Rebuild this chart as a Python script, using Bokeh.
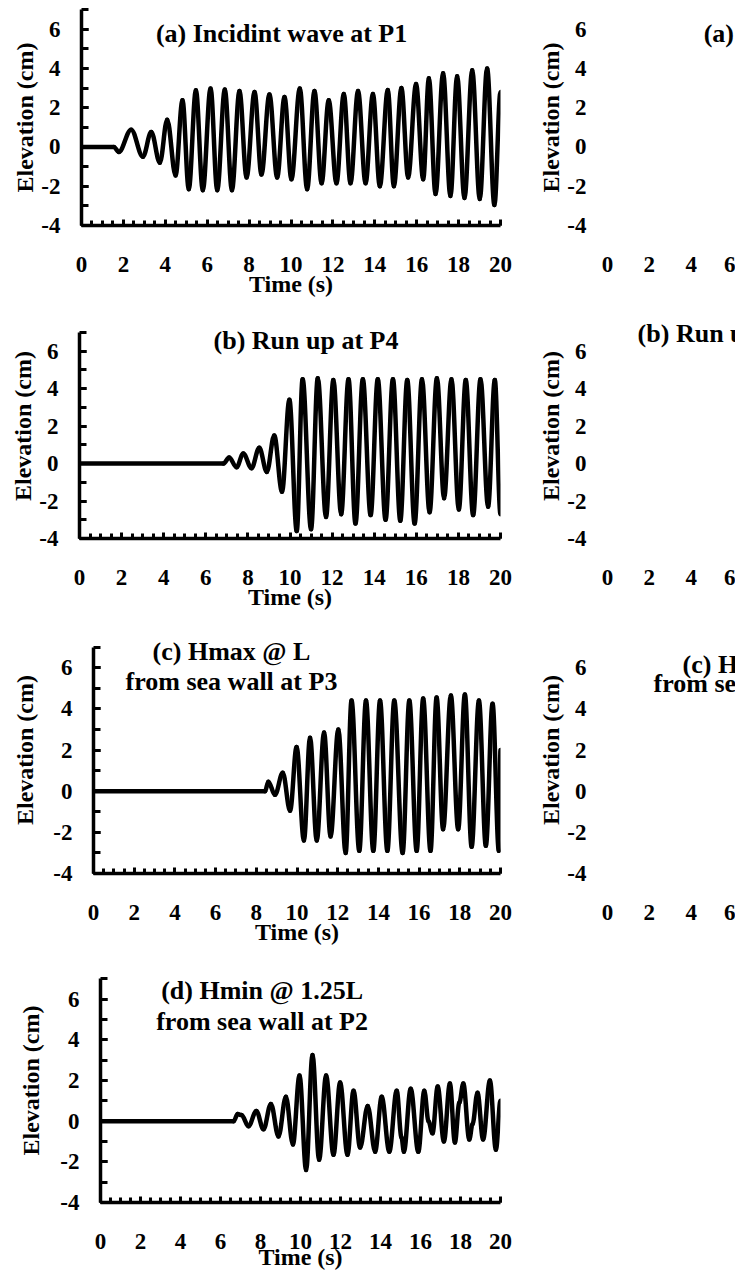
import numpy as np
from bokeh.plotting import figure
from bokeh.layouts import column, row
from bokeh.models import FixedTicker, Label, CustomJSTickFormatter
from bokeh.embed import file_html
from bokeh.resources import INLINE

# Wave gauge records: time (s) and surface elevation (cm) at crests/troughs
t_p1 = [0, 1.55, 1.78, 2.37, 2.93, 3.33, 3.74, 4.09, 4.49, 4.82, 5.12, 5.46, 5.79, 6.16, 6.48,
        6.84, 7.18, 7.54, 7.88, 8.26, 8.59, 8.97, 9.34, 9.69, 10.02, 10.42, 10.77, 11.12, 11.46,
        11.80, 12.17, 12.52, 12.84, 13.20, 13.56, 13.91, 14.24, 14.62, 14.91, 15.27, 15.59,
        15.97, 16.31, 16.58, 16.90, 17.26, 17.61, 17.93, 18.28, 18.65, 19.01, 19.36, 19.71, 20.0]
eta_p1 = [0, 0, -0.26, 0.88, -0.5, 0.76, -0.8, 1.39, -1.45, 2.38, -2.15, 2.89, -2.2, 2.98, -2.2,
          2.92, -2.2, 2.85, -1.55, 2.8, -1.4, 2.67, -1.55, 2.55, -1.65, 2.98, -2.15, 2.85, -1.85,
          2.38, -1.85, 2.7, -1.85, 2.85, -1.85, 2.7, -2.0, 2.9, -2.0, 3.0, -1.55,
          3.2, -1.65, 3.5, -2.4, 3.75, -2.5, 3.6, -2.6, 3.9, -2.65, 4.0, -2.95, 2.8]

t_p4 = [0, 6.84, 7.11, 7.46, 7.78, 8.17, 8.54, 8.90, 9.25, 9.62, 9.97, 10.32, 10.60, 11.00,
        11.32, 11.71, 12.06, 12.43, 12.78, 13.11, 13.46, 13.83, 14.17, 14.54, 14.89, 15.24,
        15.57, 15.92, 16.27, 16.63, 16.98, 17.32, 17.67, 18.02, 18.35, 18.70, 19.05, 19.41,
        19.73, 20.0]
eta_p4 = [0, 0, 0.32, -0.2, 0.54, -0.25, 0.84, -0.45, 1.5, -1.5, 3.4, -3.6, 4.5, -3.5,
          4.55, -2.85, 4.45, -2.7, 4.5, -3.2, 4.5, -2.75, 4.5, -3.0, 4.5, -3.05,
          4.45, -3.2, 4.5, -2.6, 4.55, -1.85, 4.5, -2.45, 4.45, -2.75, 4.5, -2.3,
          4.45, -2.7]

t_p3 = [0, 8.43, 8.59, 8.92, 9.30, 9.66, 9.98, 10.34, 10.64, 10.97, 11.33, 11.65, 12.03, 12.39,
        12.68, 13.06, 13.39, 13.75, 14.08, 14.44, 14.78, 15.19, 15.52, 15.88, 16.20, 16.56,
        16.86, 17.18, 17.56, 17.92, 18.25, 18.58, 18.94, 19.28, 19.61, 19.92, 20.0]
eta_p3 = [0, 0, 0.46, -0.18, 0.9, -0.95, 2.15, -2.4, 2.6, -2.4, 2.85, -2.2, 3.0, -3.0,
          4.4, -2.9, 4.4, -2.9, 4.4, -2.9, 4.4, -3.0, 4.4, -2.9, 4.5, -2.9,
          4.55, -1.85, 4.65, -1.85, 4.7, -2.7, 4.4, -2.65, 4.25, -2.9, 2.0]

t_p2 = [0, 6.66, 6.86, 7.05, 7.40, 7.79, 8.15, 8.52, 8.90, 9.27, 9.62, 9.95, 10.28, 10.60,
        10.93, 11.28, 11.65, 11.98, 12.35, 12.65, 12.98, 13.36, 13.73, 14.06, 14.44, 14.81,
        15.05, 15.17, 15.51, 15.89, 16.19, 16.40, 16.60, 16.86, 17.17, 17.47, 17.72, 17.94,
        18.14, 18.44, 18.60, 18.85, 19.13, 19.47, 19.77, 20.0]
eta_p2 = [0, 0, 0.35, 0.3, -0.25, 0.5, -0.4, 0.85, -0.75, 1.2, -1.15, 2.25, -2.4, 3.25,
          -1.9, 2.25, -1.65, 1.9, -1.65, 1.5, -1.3, 0.75, -1.5, 1.2, -1.5, 1.5,
          -0.8, -1.5, 1.6, -1.5, 1.5, 0.0, -0.6, 1.7, -1.0, 1.85, -1.05, 0.9,
          1.85, -0.9, -0.15, 1.4, -0.9, 2.0, -1.4, 1.0]

y_ticks = [-4, -2, 0, 2, 4, 6]
y_minor = [-4, -3, -2, -1, 0, 1, 2, 3, 4, 5, 6, 7]
x_ticks = [0, 2, 4, 6, 8, 10, 12, 14, 16, 18, 20]
x_minor = [i * 0.5 for i in range(41)]

FONT = "Liberation Serif"
INT_FMT = "return tick.toFixed(0);"


def style_axes(p, ylab_standoff, xlab_standoff=-4, show_lines=True, xlabel=True):
    p.outline_line_color = None
    p.xgrid.visible = False
    p.ygrid.visible = False
    p.background_fill_color = "white"
    p.border_fill_color = "white"

    xa = p.xaxis[0]
    xa.ticker = FixedTicker(ticks=x_ticks, minor_ticks=x_minor)
    ya = p.yaxis[0]
    ya.ticker = FixedTicker(ticks=y_ticks, minor_ticks=y_minor)
    ya.bounds = (-4, 7)

    for ax in (xa, ya):
        ax.formatter = CustomJSTickFormatter(code=INT_FMT)
        ax.axis_line_width = 3.5
        ax.axis_line_color = "black" if show_lines else None
        ax.major_tick_line_color = "black" if show_lines else None
        ax.minor_tick_line_color = "black" if show_lines else None
        ax.major_tick_line_width = 3
        ax.minor_tick_line_width = 3
        ax.major_tick_out = 0
        ax.minor_tick_out = 0
        ax.major_label_text_font = FONT
        ax.major_label_text_font_style = "bold"
        ax.major_label_text_font_size = "23px"
        ax.major_label_text_color = "black"
        ax.axis_label_text_font = FONT
        ax.axis_label_text_font_style = "bold"
        ax.axis_label_text_font_size = "24px"
        ax.axis_label_text_color = "black"

    xa.major_tick_in = 6
    xa.minor_tick_in = 5
    xa.major_label_standoff = 31
    if xlabel:
        xa.axis_label = "Time (s)"
        xa.axis_label_standoff = xlab_standoff

    ya.major_tick_in = 7
    ya.minor_tick_in = 7
    ya.major_label_standoff = 21
    ya.axis_label = "Elevation (cm)"
    ya.axis_label_standoff = ylab_standoff


def add_title(p, lines):
    for text, x, y, align in lines:
        p.add_layout(Label(x=x, y=y, text=text, text_font=FONT, text_font_style="bold",
                           text_font_size="26px", text_color="black",
                           text_align=align, text_baseline="middle"))


def smooth_trace(p, t, eta):
    # Smoothed line: cubic segments with flat tangents at each recorded crest/trough
    t = np.asarray(t, dtype=float)
    e = np.asarray(eta, dtype=float)
    dt = np.diff(t)
    p.bezier(x0=t[:-1], y0=e[:-1], x1=t[1:], y1=e[1:],
             cx0=t[:-1] + 0.36 * dt, cy0=e[:-1], cx1=t[1:] - 0.36 * dt, cy1=e[1:],
             line_color="black", line_width=4.5, line_cap="round")


def wave_panel(t, eta, height, left, top, bottom, ytop, ylab_standoff, lines, xlab_standoff=-4):
    p = figure(width=520, height=height, x_range=(0, 20), y_range=(-4, ytop),
               output_backend="svg", toolbar_location=None,
               min_border_left=left, min_border_right=20,
               min_border_top=top, min_border_bottom=bottom)
    smooth_trace(p, t, eta)
    style_axes(p, ylab_standoff, xlab_standoff)
    add_title(p, lines)
    return p


def blank_panel(height, top, bottom, ytop, lines):
    p = figure(width=215, height=height, x_range=(0, 6.12), y_range=(-4, ytop),
               output_backend="svg", toolbar_location=None,
               min_border_left=87, min_border_right=0,
               min_border_top=top, min_border_bottom=bottom)
    style_axes(p, 0, show_lines=False, xlabel=False)
    add_title(p, lines)
    return p


title_a = "(a) Incidint wave at P1"
title_b = "(b) Run up at P4"
title_c1 = "(c) Hmax @ L"
title_c2 = "from sea wall at P3"
title_d1 = "(d) Hmin @ 1.25L"
title_d2 = "from sea wall at P2"

pa = wave_panel(t_p1, eta_p1, 305, 81, 9, 80, 7, 0, [(title_a, 9.55, 5.78, "center")])
pb = wave_panel(t_p4, eta_p4, 315, 79, 8, 82, 8, 0, [(title_b, 10.76, 6.57, "center")])
pc = wave_panel(t_p3, eta_p3, 335, 93, 6, 82, 8, 12,
                [(title_c1, 6.78, 6.8, "center"), (title_c2, 6.78, 5.35, "center")])
pd = wave_panel(t_p2, eta_p2, 318, 100, 3, 71, 8, 13,
                [(title_d1, 8.08, 6.41, "center"), (title_d2, 8.08, 4.89, "center")],
                xlab_standoff=-8)

ra = blank_panel(305, 9, 80, 7, [(title_a, 4.6, 5.78, "left")])
rb = blank_panel(315, 8, 82, 8, [(title_b, 1.44, 6.95, "left")])
rc = blank_panel(335, 6, 82, 8, [(title_c1, 3.59, 6.17, "left"), (title_c2, 2.2, 5.25, "left")])

layout = column(row(pa, ra), row(pb, rb), row(pc, rc), pd)

with open("out.html", "w") as f:
    f.write(file_html(layout, INLINE))
